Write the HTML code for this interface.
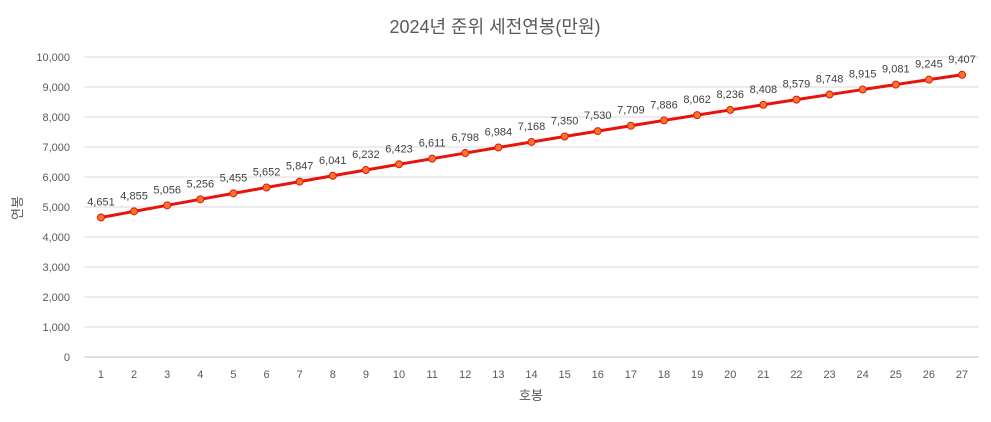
<!DOCTYPE html>
<html><head><meta charset="utf-8"><style>
body{margin:0;background:#fff;}
svg text{font-family:"Liberation Sans","Noto Sans CJK KR",sans-serif;}
</style></head><body>
<svg id="chart" width="991" height="417" xmlns="http://www.w3.org/2000/svg">
<rect width="991" height="417" fill="#fff"/>
<text x="495" y="33" text-anchor="middle" font-size="18" fill="#595959">2024년 준위 세전연봉(만원)</text>
<g id="grid"></g><g id="yticks"></g><g id="xticks"></g><g id="series"></g>
<text x="531" y="400" text-anchor="middle" font-size="13" fill="#595959">호봉</text>
<text transform="translate(22,208) rotate(-90)" text-anchor="middle" font-size="13" fill="#595959">연봉</text>
</svg>
<script>
const categories=[1,2,3,4,5,6,7,8,9,10,11,12,13,14,15,16,17,18,19,20,21,22,23,24,25,26,27];
const salaries=[4651,4855,5056,5256,5455,5652,5847,6041,6232,6423,6611,6798,6984,7168,7350,7530,7709,7886,8062,8236,8408,8579,8748,8915,9081,9245,9407];
const yTicks=[0,1000,2000,3000,4000,5000,6000,7000,8000,9000,10000];
const NS="http://www.w3.org/2000/svg";
const L=84.4,R=978.6,T=57,B=357,yMax=10000;
const band=(R-L)/categories.length;
const x=i=>L+band*(i+0.5);
const y=v=>B-(v/yMax)*(B-T);
const fmt=v=>v.toLocaleString('en-US');
function mk(tag,attrs,parent){const e=document.createElementNS(NS,tag);for(const k in attrs)e.setAttribute(k,attrs[k]);parent.appendChild(e);return e;}
const grid=document.getElementById('grid'),yt=document.getElementById('yticks'),xt=document.getElementById('xticks'),ser=document.getElementById('series');
yTicks.forEach(t=>{
 const ln=mk('line',{x1:L,x2:R,y1:y(t),y2:y(t),stroke:t===0?'#bfbfbf':'#d9d9d9','stroke-width':1},grid);
 
 
 const tx=mk('text',{x:70,y:y(t)+4,'text-anchor':'end','font-size':11,fill:'#595959'},yt);
 tx.textContent=fmt(t);
 
 
});
categories.forEach((c,i)=>{
 const tx=mk('text',{x:x(i),y:378,'text-anchor':'middle','font-size':11,fill:'#595959'},xt);
 tx.textContent=c;
 
 
});
const pl=mk('polyline',{points:salaries.map((v,i)=>x(i)+','+y(v)).join(' '),fill:'none',stroke:'#e8130c','stroke-width':3},ser);


salaries.forEach((v,i)=>{
 const c=mk('circle',{cx:x(i),cy:y(v),r:3.5,fill:'#f7762a',stroke:'#e8130c','stroke-width':1},ser);
 
 
 const t=mk('text',{x:x(i),y:y(v)-12,'text-anchor':'middle','font-size':11,fill:'#404040'},ser);
 t.textContent=fmt(v);
 
 
});
</script>
</body></html>
